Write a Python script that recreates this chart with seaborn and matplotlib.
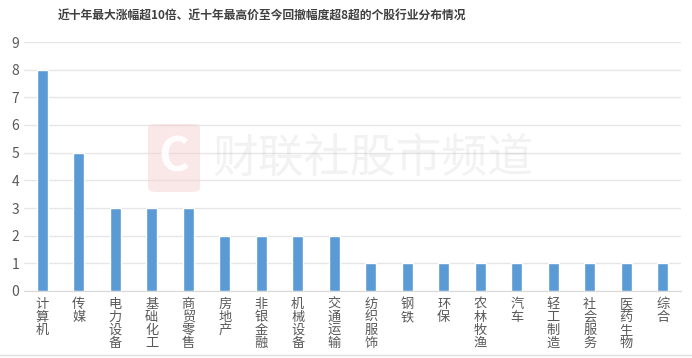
import pandas as pd
import matplotlib.pyplot as plt
import seaborn as sns
from matplotlib.patches import FancyBboxPatch

# Industry distribution data
industries = ["计算机", "传媒", "电力设备", "基础化工", "商贸零售", "房地产", "非银金融",
              "机械设备", "交通运输", "纺织服饰", "钢铁", "环保", "农林牧渔", "汽车",
              "轻工制造", "社会服务", "医药生物", "综合"]
counts = [8, 5, 3, 3, 3, 2, 2, 2, 2, 1, 1, 1, 1, 1, 1, 1, 1, 1]
y_ticks = list(range(0, 10))

df = pd.DataFrame({"industry": industries, "count": counts})

sns.set_style("white")
plt.rcParams['font.family'] = ['Noto Sans CJK SC', 'DejaVu Sans']

fig = plt.figure(figsize=(6.92, 3.58), dpi=100)
ax = fig.add_axes([24 / 692, 67 / 358, 657 / 692, 249 / 358])

sns.barplot(data=df, x="industry", y="count", color="#5B9BD5", width=0.3,
            saturation=1, ax=ax, zorder=3)

ax.set_ylim(0, 9)
ax.set_yticks(y_ticks)
ax.set_xlim(-0.5, len(industries) - 0.5)
ax.grid(axis="y", color="#E6E6E6", linewidth=1, zorder=0)
for s in ["top", "right", "left"]:
    ax.spines[s].set_visible(False)
ax.spines["bottom"].set_color("#D9D9D9")
ax.tick_params(axis="both", length=0, colors="#595959", labelsize=10)
ax.tick_params(axis="x", pad=5)
ax.set_xticks(range(len(industries)))
ax.set_xticklabels(["\n".join(list(s)) for s in industries], va="top",
                   linespacing=1.0, fontsize=9.5)
ax.set_xlabel("")
ax.set_ylabel("")

fig.text(262 / 692, 1 - 15 / 358, "近十年最大涨幅超10倍、近十年最高价至今回撤幅度超8超的个股行业分布情况",
         ha="center", va="center", fontsize=8.5, fontweight="bold", color="#404040")

# watermark
logo = FancyBboxPatch((148 / 692, 1 - 192 / 358), 52 / 692, 68 / 358,
                      boxstyle="round,pad=0,rounding_size=0.012",
                      transform=fig.transFigure, facecolor="#F6D2D4",
                      edgecolor="none", alpha=0.5, zorder=5)
fig.patches.append(logo)
fig.text(174 / 692, 1 - 158 / 358, "C", ha="center", va="center", fontsize=34,
         fontweight="bold", color="white", alpha=0.9, zorder=6)
fig.text(212 / 692, 1 - 158 / 358, "财联社股市频道", ha="left", va="center",
         fontsize=33, color="#9E9E9E", alpha=0.13, zorder=6)

# bottom border line
fig.add_artist(plt.Line2D([0, 1], [3 / 358, 3 / 358], color="#E0E0E0", linewidth=1))

plt.savefig("out.png", dpi=100)
